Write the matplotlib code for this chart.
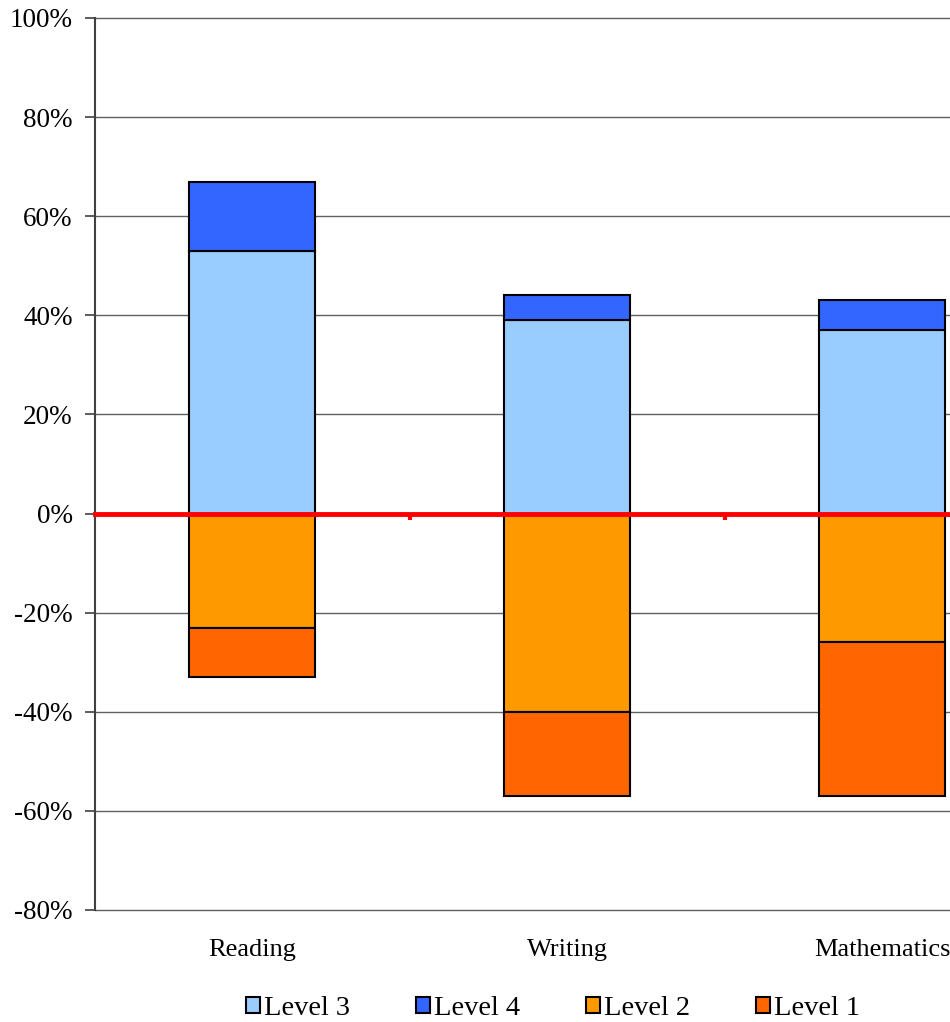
import numpy as np
import matplotlib.pyplot as plt
from matplotlib.patches import Patch
from matplotlib.ticker import PercentFormatter

plt.rcParams['font.family'] = ['Liberation Serif', 'DejaVu Serif']
plt.rcParams['axes.unicode_minus'] = False

subjects = ["Reading", "Writing", "Mathematics"]
level3 = [53, 39, 37]
level4 = [14, 5, 6]
level2 = [-23, -40, -26]
level1 = [-10, -17, -31]

c_l3 = "#99CCFF"
c_l4 = "#3366FF"
c_l2 = "#FF9900"
c_l1 = "#FF6600"

fig = plt.figure(figsize=(9.5, 10.22), dpi=100)
# plot area runs past the right edge, as in the source image
ax = fig.add_axes([0.1, 0.1096, 0.9947, 0.8728])

x = np.arange(len(subjects))
w = 0.4
kw = dict(width=w, edgecolor="black", linewidth=1.5, zorder=2)
ax.bar(x, level3, color=c_l3, **kw)
ax.bar(x, level4, bottom=level3, color=c_l4, **kw)
ax.bar(x, level2, color=c_l2, **kw)
ax.bar(x, level1, bottom=level2, color=c_l1, **kw)

ax.set_xlim(-0.5, 2.5)
ax.set_ylim(-80, 100)
ax.set_yticks(np.arange(-80, 101, 20))
ax.yaxis.set_major_formatter(PercentFormatter(decimals=0))
ax.tick_params(axis="y", length=7, width=1.2, color="#404040", pad=9, labelsize=19.5)
ax.grid(axis="y", color="#606060", linewidth=1.0, zorder=0)
ax.set_axisbelow(True)
for gl in ax.get_ygridlines():
    gl.set_clip_on(False)

for s in ["top", "right"]:
    ax.spines[s].set_visible(False)
ax.spines["left"].set_color("#404040")
ax.spines["left"].set_linewidth(1.5)

# red zero axis with small ticks between categories
ax.spines["bottom"].set_position(("data", 0))
ax.spines["bottom"].set_color("red")
ax.spines["bottom"].set_linewidth(3.5)
ax.spines["bottom"].set_zorder(3)
ax.set_xticks(x)
ax.set_xticklabels([])
ax.tick_params(axis="x", which="major", length=0)
ax.set_xticks(x[:-1] + 0.5, minor=True)
ax.tick_params(axis="x", which="minor", length=4, width=3, color="red", direction="out")

sec = ax.secondary_xaxis(location=0)
sec.set_xticks(x)
sec.set_xticklabels(subjects, fontsize=19)
sec.tick_params(length=0, pad=21)
sec.spines["bottom"].set_visible(False)
# keep the last label inside the picture
sec.get_xticklabels()[-1].set_horizontalalignment("center")

handles = [Patch(facecolor=c, edgecolor="black", linewidth=1.5) for c in [c_l3, c_l4, c_l2, c_l1]]
fig.legend(handles, ["Level 3", "Level 4", "Level 2", "Level 1"], ncol=4, loc="center",
           bbox_to_anchor=(0.582, 0.013), frameon=False, fontsize=20.5,
           handlelength=0.5, handleheight=0.5, handletextpad=0.15, columnspacing=2.3)

fig.savefig("out.png", dpi=100)
